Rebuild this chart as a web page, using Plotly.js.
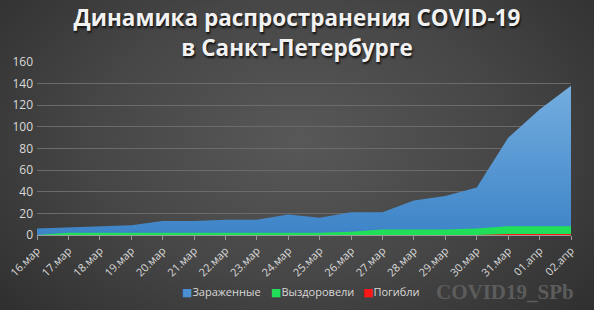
<!DOCTYPE html>
<html>
<head>
<meta charset="utf-8">
<script src="https://cdn.plot.ly/plotly-3.0.1.min.js"></script>
<style>
html,body{margin:0;padding:0;}
body{width:594px;height:310px;overflow:hidden;
background:radial-gradient(ellipse 70% 90% at 50% 45%, #585858 0%, #464646 50%, #2c2c2c 100%);}
#chart{width:594px;height:310px;}
</style>
</head>
<body>
<div id="chart"></div>
<script>
const dates = ["16.мар","17.мар","18.мар","19.мар","20.мар","21.мар","22.мар","23.мар","24.мар","25.мар","26.мар","27.мар","28.мар","29.мар","30.мар","31.мар","01.апр","02.апр"];
const infected = [6,7,8,9,13,13,14,14,19,16,21,21,32,36,44,90,116,138];
const recovered = [0,2,2,2,2,2,2,2,2,2,3,5,5,5,6,8,8,8];
const deaths = [0,0,0,0,0,0,0,0,0,0,0,0,0,0,0,1,1,1];
const yTicks = [0,20,40,60,80,100,120,140,160];
const seriesNames = ["Зараженные","Выздоровели","Погибли"];
const seriesColors = ["#4a8fd2","#1fe058","#ff1616"];

const traces = [
  {x:dates, y:infected, name:seriesNames[0], type:"scatter", mode:"lines",
   fill:"tozeroy", line:{width:0, color:seriesColors[0]},
   fillgradient:{type:"vertical", colorscale:[[0,"#3d84c7"],[1,"#74addf"]]}, fillcolor:seriesColors[0]},
  {x:dates, y:recovered, name:seriesNames[1], type:"scatter", mode:"lines",
   fill:"tozeroy", line:{width:0, color:seriesColors[1]}, fillcolor:seriesColors[1]},
  {x:dates, y:deaths, name:seriesNames[2], type:"scatter", mode:"lines",
   fill:"tozeroy", line:{width:0, color:seriesColors[2]}, fillcolor:seriesColors[2]}
];

// legend entries (compact, like the original) drawn as annotations
const legendX = [180, 269, 361];
const legendAnn = seriesNames.map((n,i)=>({
  text:'<span style="color:'+seriesColors[i]+'">■</span>'+n,
  xref:"paper", yref:"paper", x:(legendX[i]-37)/534, y:-(291-235)/173,
  xanchor:"left", yanchor:"middle", showarrow:false,
  font:{size:11, color:"#d9d9d9", family:"Open Sans, DejaVu Sans, sans-serif"}
}));

const layout = {
  width:594, height:310,
  paper_bgcolor:"rgba(0,0,0,0)", plot_bgcolor:"rgba(0,0,0,0)",
  margin:{l:37, r:23, t:62, b:75},
  font:{family:"Open Sans, DejaVu Sans, sans-serif", color:"#d9d9d9", size:11},
  title:{text:"<b>Динамика распространения COVID-19<br>в Санкт-Петербурге</b>",
    x:0.5, xanchor:"center", xref:"container", yref:"container", y:0.915, yanchor:"middle",
    font:{family:"Open Sans, DejaVu Sans, sans-serif", size:22.5, color:"#f2f2f2", shadow:"1px 2px 2px #111"}},
  xaxis:{type:"category", range:[0, dates.length-1], showgrid:false, automargin:false,
    showline:true, linecolor:"#9a9a9a", linewidth:1,
    ticks:"outside", ticklen:4, tickcolor:"#9a9a9a", tickangle:-45,
    tickfont:{size:11, color:"#d9d9d9"}, fixedrange:true, zeroline:false},
  yaxis:{range:[0,160], tickvals:yTicks, showgrid:true, gridcolor:"#6b6b6b", gridwidth:1, automargin:false,
    zeroline:false, showline:false, ticks:"", tickfont:{size:12, color:"#d9d9d9"}, ticklabelstandoff:3},
  showlegend:false,
  annotations:legendAnn.concat([{text:"<b>COVID19_SPb</b>", xref:"paper", yref:"paper", x:(576-37)/534, y:-(292-235)/173,
    xanchor:"right", yanchor:"middle", showarrow:false,
    font:{family:"Liberation Serif, DejaVu Serif, serif", size:21, color:"#5c5c5c"}}])
};
Plotly.newPlot("chart", traces, layout, {displayModeBar:false, staticPlot:true});
</script>
</body>
</html>
